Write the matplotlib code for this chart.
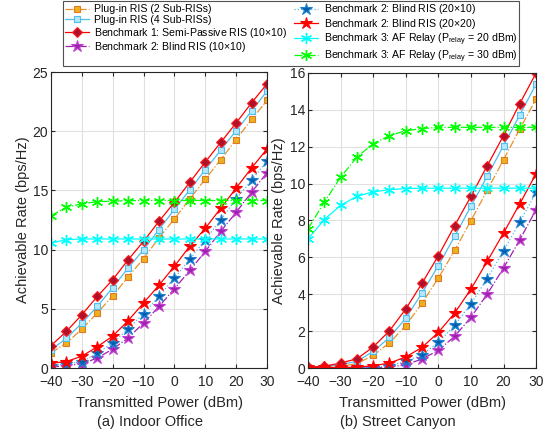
import matplotlib
matplotlib.use("Agg")
import matplotlib.pyplot as plt
import numpy as np

plt.rcParams['font.family'] = ['Liberation Sans', 'DejaVu Sans']
plt.rcParams['mathtext.fontset'] = 'custom'
plt.rcParams['mathtext.rm'] = 'Liberation Sans'

power = [-40, -35, -30, -25, -20, -15, -10, -5, 0, 5, 10, 15, 20, 25, 30]

# (a) Indoor Office
io_plug2 = [1.27, 2.1, 3.3, 4.65, 6.1, 7.7, 9.25, 11.0, 12.6, 14.3, 15.96, 17.6, 19.3, 21.0, 22.6]
io_plug4 = [1.55, 2.5, 3.8, 5.2, 6.8, 8.45, 10.0, 11.7, 13.4, 15.06, 16.75, 18.4, 20.05, 21.7, 23.4]
io_semi = [1.89, 3.1, 4.5, 6.05, 7.46, 9.15, 10.7, 12.4, 14.0, 15.7, 17.4, 19.06, 20.7, 22.4, 24.0]
io_blind10x10 = [0.08, 0.2, 0.35, 0.85, 1.6, 2.55, 3.8, 5.2, 6.7, 8.25, 9.85, 11.55, 13.15, 14.85, 16.5]
io_blind20x10 = [0.2, 0.35, 0.55, 1.25, 2.15, 3.3, 4.6, 6.05, 7.6, 9.2, 10.85, 12.5, 14.3, 15.85, 17.5]
io_blind20x20 = [0.4, 0.55, 1.0, 1.8, 2.7, 4.0, 5.5, 7.0, 8.6, 10.3, 11.8, 13.5, 15.2, 16.9, 18.5]
io_af20 = [10.55, 10.85, 10.9, 10.9, 10.9, 10.9, 10.9, 10.9, 10.9, 10.9, 10.9, 10.9, 10.9, 10.9, 10.9]
io_af30 = [12.87, 13.57, 13.88, 14.05, 14.1, 14.13, 14.15, 14.15, 14.15, 14.15, 14.15, 14.15, 14.15, 14.15, 14.15]

# (b) Street Canyon
sc_plug2 = [0.03, 0.05, 0.1, 0.23, 0.69, 1.36, 2.3, 3.52, 4.88, 6.38, 7.99, 9.64, 11.3, 12.96, 14.59]
sc_plug4 = [0.05, 0.08, 0.18, 0.36, 0.9, 1.66, 2.7, 4.07, 5.55, 7.14, 8.77, 10.4, 12.06, 13.72, 15.4]
sc_semi = [0.05, 0.1, 0.27, 0.5, 1.14, 2.02, 3.2, 4.6, 6.09, 7.72, 9.31, 10.97, 12.6, 14.34, 16.0]
sc_blind10x10 = [0.01, 0.01, 0.01, 0.01, 0.01, 0.05, 0.18, 0.49, 0.96, 1.72, 2.75, 4.01, 5.42, 6.96, 8.59]
sc_blind20x10 = [0.02, 0.02, 0.02, 0.02, 0.02, 0.12, 0.36, 0.72, 1.39, 2.31, 3.49, 4.85, 6.36, 7.92, 9.53]
sc_blind20x20 = [0.03, 0.03, 0.03, 0.05, 0.12, 0.27, 0.6, 1.12, 1.93, 2.98, 4.28, 5.79, 7.32, 8.91, 10.54]
sc_af20 = [7.0, 8.05, 8.82, 9.31, 9.55, 9.67, 9.73, 9.75, 9.75, 9.75, 9.75, 9.75, 9.75, 9.75, 9.75]
sc_af30 = [7.54, 9.0, 10.34, 11.43, 12.17, 12.6, 12.87, 12.98, 13.05, 13.05, 13.05, 13.05, 13.05, 13.05, 13.05]

labels = ['Plug-in RIS (2 Sub-RISs)', 'Plug-in RIS (4 Sub-RISs)',
          'Benchmark 1: Semi-Passive RIS (10$\\times$10)', 'Benchmark 2: Blind RIS (10$\\times$10)',
          'Benchmark 2: Blind RIS (20$\\times$10)', 'Benchmark 2: Blind RIS (20$\\times$20)',
          'Benchmark 3: AF Relay (P$_{\\rm relay}$ = 20 dBm)', 'Benchmark 3: AF Relay (P$_{\\rm relay}$ = 30 dBm)']

styles = [
    dict(color='#E8912A', ls='-.', marker='s', mfc='#EDB120', mec='#E07A20', ms=5),
    dict(color='#4DBEEE', ls='-', marker='s', mfc='#B5E6FA', mec='#4DBEEE', ms=5),
    dict(color='#FF0000', ls='-', marker='D', mfc='#B0102A', mec='#FF2020', ms=5),
    dict(color='#A020B0', ls='-.', marker='*', mfc='#A020B0', mec='#C040D0', ms=9),
    dict(color='#4DBEEE', ls=':', marker='*', mfc='#0060B0', mec='#2080D0', ms=9),
    dict(color='#FF0000', ls='-', marker='*', mfc='#FF0000', mec='#FF0000', ms=9),
    dict(color='#00FFFF', ls='-', marker='*', mfc='#00FFFF', mec='#00E0F0', ms=6),
    dict(color='#00FF00', ls='-.', marker='*', mfc='#00FF00', mec='#00DD00', ms=6),
]

fig = plt.figure(figsize=(5.51, 4.34), dpi=100)
ax1 = fig.add_axes([0.0926, 0.152, 0.392, 0.682])
ax2 = fig.add_axes([0.559, 0.152, 0.414, 0.680])

io = [io_plug2, io_plug4, io_semi, io_blind10x10, io_blind20x10, io_blind20x20, io_af20, io_af30]
sc = [sc_plug2, sc_plug4, sc_semi, sc_blind10x10, sc_blind20x10, sc_blind20x20, sc_af20, sc_af30]

handles = []
for ax, data in [(ax1, io), (ax2, sc)]:
    for i, (d, st) in enumerate(zip(data, styles)):
        st2 = dict(st)
        mew = 0.8
        if i >= 6:
            st2['marker'] = (6, 2, 0)
            st2['mec'] = st['color']
            mew = 1.0
            st2['ms'] = 8
        h, = ax.plot(power, d, lw=0.9, mew=mew, label=labels[i], **st2)
        if ax is ax1:
            handles.append(h)

for ax, ymax, yt in [(ax1, 25, [0, 5, 10, 15, 20, 25]), (ax2, 16, [0, 2, 4, 6, 8, 10, 12, 14, 16])]:
    ax.set_xlim(-40, 30)
    ax.set_ylim(0, ymax)
    ax.set_xticks([-40, -30, -20, -10, 0, 10, 20, 30])
    ax.set_yticks(yt)
    ax.grid(True, color='#E0E0E0', lw=0.8)
    ax.set_axisbelow(True)
    ax.tick_params(direction='in', labelsize=10, length=3, top=True, right=True,
                   colors='#262626', labelcolor='#262626')
    ax.tick_params(axis='x', pad=5)
    ax.tick_params(axis='y', pad=2)
    for s in ax.spines.values():
        s.set_color('#262626')
        s.set_linewidth(0.8)
    ax.set_xlabel('Transmitted Power (dBm)', fontsize=10.5, color='#262626', labelpad=5)

ax1.set_ylabel('Achievable Rate (bps/Hz)', fontsize=10.5, color='#262626', labelpad=2)
ax2.set_ylabel('Achievable Rate (bps/Hz)', fontsize=10.5, color='#262626', labelpad=3)

fig.text(0.272, 0.018, '(a) Indoor Office', ha='center', fontsize=10.5, color='#262626')
fig.text(0.722, 0.018, '(b) Street Canyon', ha='center', fontsize=10.5, color='#262626')

leg = fig.legend(handles, labels, ncol=2, loc='upper left', bbox_to_anchor=(0.1143, 0.998),
                 fontsize=7.6, frameon=True, fancybox=False, edgecolor='#262626',
                 handlelength=2.3, handletextpad=0.5, columnspacing=0.65, labelspacing=0.05,
                 borderpad=0.15, borderaxespad=0.0)
leg.get_frame().set_linewidth(0.8)

fig.savefig('out.png', dpi=100)
